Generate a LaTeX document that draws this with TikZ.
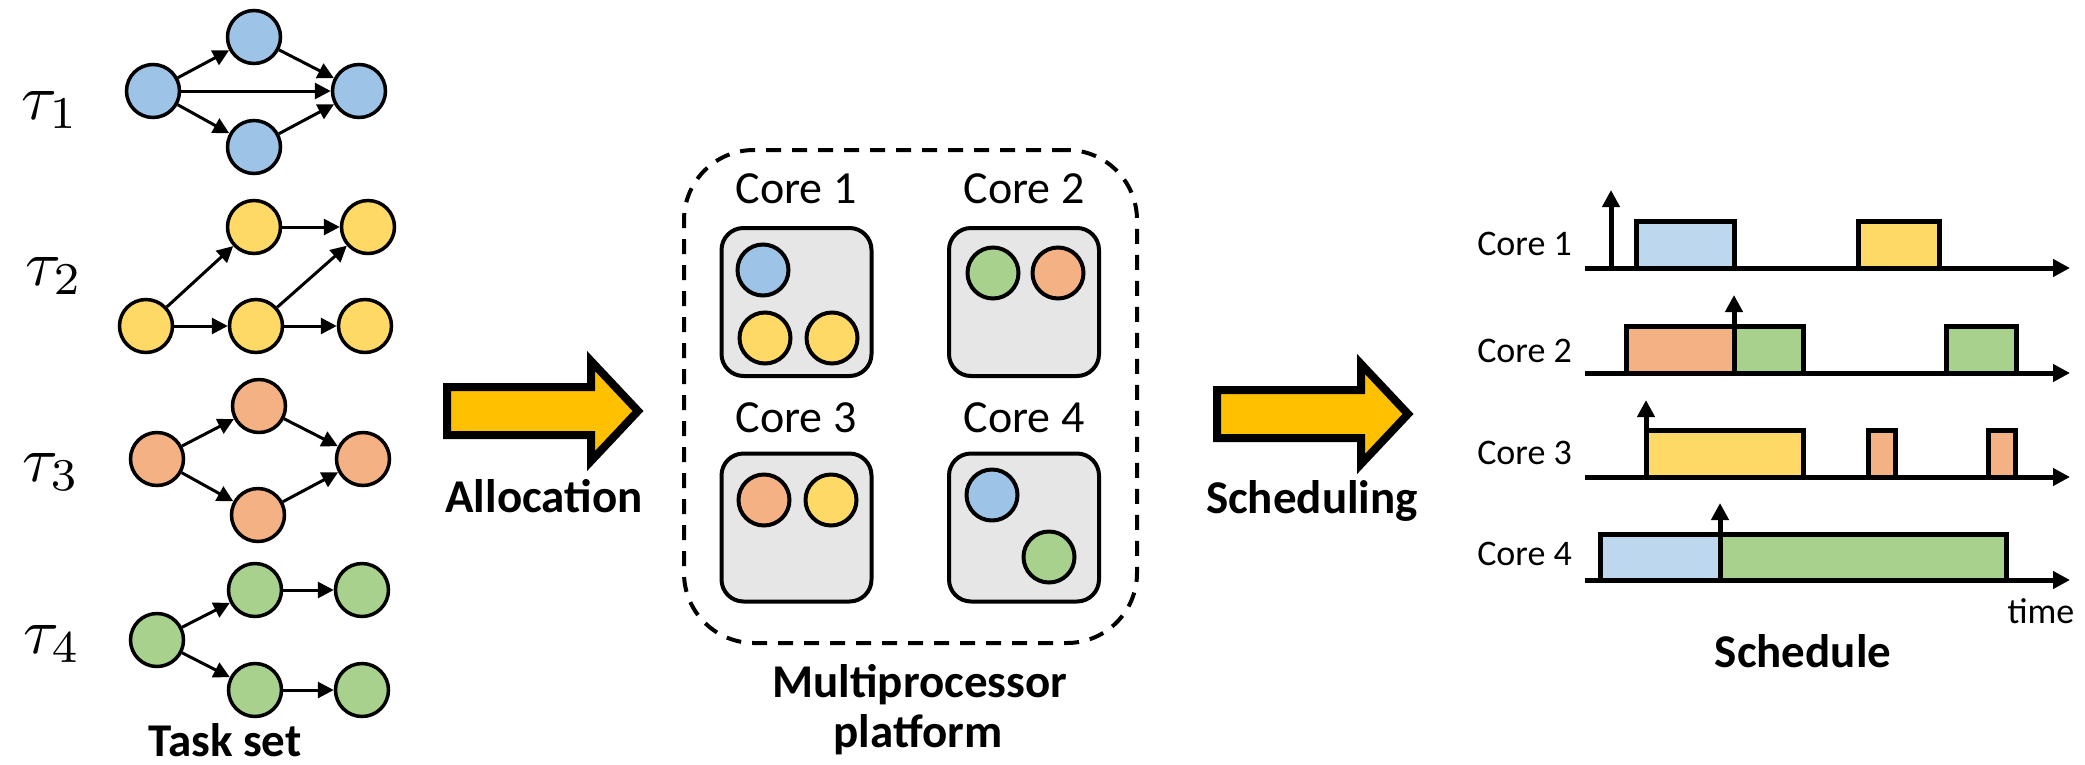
\documentclass[tikz,border=0pt]{standalone}
\usepackage{fontspec}
\setmainfont{Carlito}
\usepackage{graphicx}
\usetikzlibrary{arrows.meta}
\definecolor{tblue}{HTML}{9DC3E6}
\definecolor{sblue}{HTML}{BDD7EE}
\definecolor{tyellow}{HTML}{FFD966}
\definecolor{torange}{HTML}{F4B183}
\definecolor{tgreen}{HTML}{A9D18E}
\definecolor{cgray}{HTML}{E6E6E6}
\definecolor{arrowfill}{HTML}{FFC000}
\begin{document}
\begin{tikzpicture}[x=1pt,y=-1pt,
  task/.style={circle, draw, line width=3.5pt, minimum size=53pt, inner sep=0pt},
  dep/.style={line width=3pt, -{Triangle[length=16pt,width=16pt]}},
  job/.style={circle, draw, line width=4pt, minimum size=51pt, inner sep=0pt},
  corebox/.style={draw, line width=4pt, fill=cgray, rounded corners=22pt, minimum width=150pt, minimum height=148pt, inner sep=0pt},
  lbl/.style={font=\fontsize{46}{50}\selectfont, inner sep=0pt, anchor=base},
  blbl/.style={font=\fontsize{47}{52}\selectfont\bfseries, inner sep=0pt, anchor=base},
  slbl/.style={font=\fontsize{36}{40}\selectfont, inner sep=0pt, anchor=base east},
  bigarrow/.style={draw, line width=8pt, fill=arrowfill, line join=miter},
  timeline/.style={line width=5pt, -{Triangle[length=17pt,width=17pt]}},
  slot/.style={draw, line width=5pt},
  release/.style={line width=5pt, -{Triangle[length=17pt,width=17pt]}},
  taulbl/.style={anchor=base west, inner sep=0pt},
]
\useasboundingbox (0,0) rectangle (2085,764);

% ---------------- Task set ----------------
\node[taulbl] (tau1) at (21,119) {\scalebox{6.5}{$\tau_1$}};
\node[taulbl] (tau2) at (25,285) {\scalebox{6.5}{$\tau_2$}};
\node[taulbl] (tau3) at (22,481) {\scalebox{6.5}{$\tau_3$}};
\node[taulbl] (tau4) at (23,653) {\scalebox{6.5}{$\tau_4$}};

% tau1
\node[task, fill=tblue] (a1) at (153,91) {};
\node[task, fill=tblue] (a2) at (254,37) {};
\node[task, fill=tblue] (a3) at (254,147) {};
\node[task, fill=tblue] (a4) at (359,91) {};
\draw[dep] (a1) -- (a2);
\draw[dep] (a1) -- (a4);
\draw[dep] (a1) -- (a3);
\draw[dep] (a2) -- (a4);
\draw[dep] (a3) -- (a4);

% tau2
\node[task, fill=tyellow] (b1) at (146,326) {};
\node[task, fill=tyellow] (b2) at (254,227) {};
\node[task, fill=tyellow] (b3) at (256,326) {};
\node[task, fill=tyellow] (b4) at (368,227) {};
\node[task, fill=tyellow] (b5) at (365,326) {};
\draw[dep] (b1) -- (b2);
\draw[dep] (b1) -- (b3);
\draw[dep] (b2) -- (b4);
\draw[dep] (b3) -- (b4);
\draw[dep] (b3) -- (b5);

% tau3
\node[task, fill=torange] (c1) at (157,459) {};
\node[task, fill=torange] (c2) at (259,406) {};
\node[task, fill=torange] (c3) at (258,515) {};
\node[task, fill=torange] (c4) at (363,459) {};
\draw[dep] (c1) -- (c2);
\draw[dep] (c1) -- (c3);
\draw[dep] (c2) -- (c4);
\draw[dep] (c3) -- (c4);

% tau4
\node[task, fill=tgreen] (d1) at (157,640) {};
\node[task, fill=tgreen] (d2) at (255,590) {};
\node[task, fill=tgreen] (d3) at (362,590) {};
\node[task, fill=tgreen] (d4) at (255,690) {};
\node[task, fill=tgreen] (d5) at (362,690) {};
\draw[dep] (d1) -- (d2);
\draw[dep] (d1) -- (d4);
\draw[dep] (d2) -- (d3);
\draw[dep] (d4) -- (d5);

\node[blbl] (taskset) at (225,756) {Task set};

% ---------------- Allocation arrow ----------------
\draw[bigarrow] (447,387) -- (591,387) -- (591,361) -- (638,411) -- (591,461) -- (591,435) -- (447,435) -- cycle;
\node[blbl] (alloc) at (544,512) {Allocation};

% ---------------- Platform ----------------
\node[draw, line width=4pt, dash pattern=on 15pt off 11pt, rounded corners=70pt,
      minimum width=453pt, minimum height=493pt, inner sep=0pt] (platform) at (910.5,396.5) {};

\node[corebox] (core1) at (796.5,302) {};
\node[corebox] (core2) at (1024,302) {};
\node[corebox] (core3) at (796.5,527.5) {};
\node[corebox] (core4) at (1024,527.5) {};

\node[lbl] (lc1) at (796,203) {Core 1};
\node[lbl] (lc2) at (1024,203) {Core 2};
\node[lbl] (lc3) at (796,432) {Core 3};
\node[lbl] (lc4) at (1024,432) {Core 4};

\node[job, fill=tblue] (j11) at (763,270) {};
\node[job, fill=tyellow] (j12) at (765,338) {};
\node[job, fill=tyellow] (j13) at (832,338) {};
\node[job, fill=tgreen] (j21) at (993,273) {};
\node[job, fill=torange] (j22) at (1058,273) {};
\node[job, fill=torange] (j31) at (764,500) {};
\node[job, fill=tyellow] (j32) at (831,500) {};
\node[job, fill=tblue] (j41) at (992,495) {};
\node[job, fill=tgreen] (j42) at (1049,557) {};

\node[blbl] (mp1) at (920,697) {Multiprocessor};
\node[blbl] (mp2) at (918,747) {platform};

% ---------------- Scheduling arrow ----------------
\draw[bigarrow] (1217,390) -- (1361,390) -- (1361,364) -- (1408,414) -- (1361,464) -- (1361,438) -- (1217,438) -- cycle;
\node[blbl] (sched) at (1312,513) {Scheduling};

% ---------------- Schedule ----------------
\node[slbl] (s1) at (1572,255) {Core 1};
\node[slbl] (s2) at (1572,362) {Core 2};
\node[slbl] (s3) at (1572,464) {Core 3};
\node[slbl] (s4) at (1572,565) {Core 4};

% core 1
\draw[slot, fill=sblue] (1636,268) rectangle (1734,221);
\draw[slot, fill=tyellow] (1858,268) rectangle (1939,221);
% core 2
\draw[slot, fill=torange] (1626,373) rectangle (1734,326);
\draw[slot, fill=tgreen] (1734,373) rectangle (1803,326);
\draw[slot, fill=tgreen] (1946,373) rectangle (2016,326);
% core 3
\draw[slot, fill=tyellow] (1646,477) rectangle (1803,430);
\draw[slot, fill=torange] (1868,477) rectangle (1895,430);
\draw[slot, fill=torange] (1988,477) rectangle (2015,430);
% core 4
\draw[slot, fill=sblue] (1600,580) rectangle (1720,534);
\draw[slot, fill=tgreen] (1720,580) rectangle (2006,534);

% time axes
\coordinate (ax1s) at (1585,268); \coordinate (ax1e) at (2070,268);
\coordinate (ax2s) at (1585,373); \coordinate (ax2e) at (2070,373);
\coordinate (ax3s) at (1585,477); \coordinate (ax3e) at (2070,477);
\coordinate (ax4s) at (1585,580); \coordinate (ax4e) at (2070,580);
\draw[timeline] (ax1s) -- (ax1e);
\draw[timeline] (ax2s) -- (ax2e);
\draw[timeline] (ax3s) -- (ax3e);
\draw[timeline] (ax4s) -- (ax4e);

% release arrows
\coordinate (r1s) at (1611,270); \coordinate (r1e) at (1611,190);
\coordinate (r2s) at (1734,375); \coordinate (r2e) at (1734,295);
\coordinate (r3s) at (1646,479); \coordinate (r3e) at (1646,400);
\coordinate (r4s) at (1720,582); \coordinate (r4e) at (1720,503);
\draw[release] (r1s) -- (r1e);
\draw[release] (r2s) -- (r2e);
\draw[release] (r3s) -- (r3e);
\draw[release] (r4s) -- (r4e);

\node[font=\fontsize{36}{40}\selectfont, inner sep=0pt, anchor=base] (time) at (2041,623) {time};
\node[blbl] (schedule) at (1803,667) {Schedule};
\end{tikzpicture}
\end{document}
